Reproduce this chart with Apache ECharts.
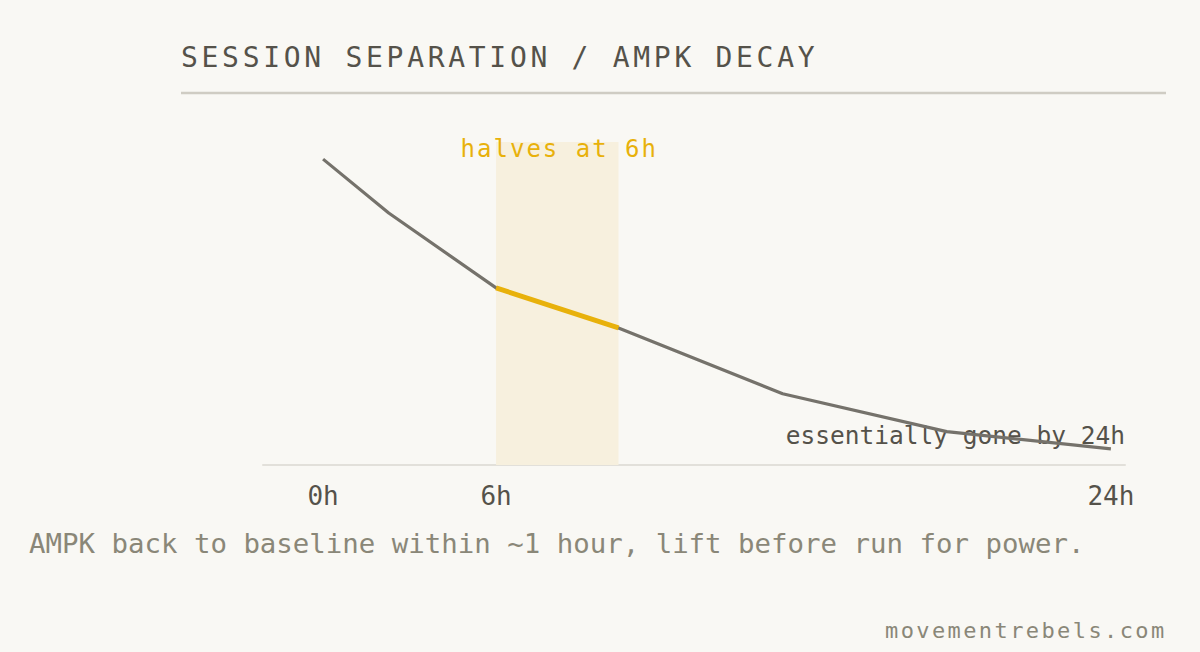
<!DOCTYPE html>
<html>
<head>
<meta charset="utf-8">
<title>Session separation / AMPK decay</title>
<script src="https://cdn.jsdelivr.net/npm/echarts@6/dist/echarts.min.js"></script>
<style>
  html, body { margin: 0; padding: 0; background: #f9f8f4; }
  #chart { width: 1200px; height: 652px; }
</style>
</head>
<body>
<div id="chart"></div>
<script>
// hours after session (x) and relative AMPK activity (y)
const hours = [0, 2, 5.27, 9, 14, 19, 24]
const ampk = [100, 82.4, 57.9, 44.8, 23.3, 10.9, 5.3]

// the "halves" window, drawn in yellow
const halfStart = 2
const halfEnd = 3

const tickValues = [0, 5.27, 24]
const tickLabels = ['0h', '6h', '24h']

const titleText = 'SESSION SEPARATION / AMPK DECAY'
const bandText = 'halves at 6h'
const noteText = 'essentially gone by 24h'
const subText = 'AMPK back to baseline within ~1 hour, lift before run for power.'
const footText = 'movementrebels.com'

// echarts has no letter spacing, so it is set on the svg text afterwards
const spacing = {}
spacing[titleText] = 3.7
spacing[bandText] = 2
spacing[footText] = 2.4

const mono = '"DejaVu Sans Mono", monospace'

const myChart = echarts.init(document.getElementById('chart'), null, { renderer: 'svg' })

const mainLine = hours.map((h, i) => [h, ampk[i]])
const halfLine = mainLine.slice(halfStart, halfEnd + 1)

const applySpacing = () => {
    document.querySelectorAll('#chart svg text').forEach(t => {
        const s = spacing[t.textContent]
        if (s) t.setAttribute('letter-spacing', s)
    })
}
myChart.on('finished', applySpacing)

myChart.setOption({
    backgroundColor: '#f9f8f4',
    animation: false,
    grid: { left: 263, right: 75, top: 142, bottom: 187 },
    xAxis: {
        type: 'value',
        min: -1.83,
        max: 24.43,
        axisLine: { lineStyle: { color: '#e2e0da', width: 2 } },
        axisTick: { show: false },
        splitLine: { show: false },
        axisLabel: {
            customValues: tickValues,
            formatter: v => tickLabels[tickValues.indexOf(v)] || '',
            color: '#55524a',
            fontFamily: mono,
            fontSize: 26,
            margin: 18
        }
    },
    yAxis: {
        type: 'value',
        min: 0,
        max: 105.6,
        show: false
    },
    series: [
        {
            type: 'line',
            data: mainLine,
            symbol: 'none',
            lineStyle: { color: '#75726b', width: 3.2 },
            markArea: {
                silent: true,
                itemStyle: { color: '#f7f0de' },
                label: {
                    show: true,
                    position: 'insideTop',
                    distance: 0,
                    offset: [2, -5],
                    color: '#e8b10b',
                    fontFamily: mono,
                    fontSize: 24
                },
                data: [[
                    { name: bandText, xAxis: hours[halfStart] },
                    { xAxis: hours[halfEnd] }
                ]]
            }
        },
        {
            type: 'line',
            data: halfLine,
            symbol: 'none',
            z: 3,
            lineStyle: { color: '#e8b10b', width: 5 }
        }
    ],
    graphic: [
        {
            type: 'text',
            left: 181, top: 43,
            style: { text: titleText, fill: '#55524a', font: '28px ' + mono }
        },
        {
            type: 'line',
            shape: { x1: 181, y1: 93, x2: 1166, y2: 93 },
            style: { stroke: '#cfccc3', lineWidth: 2.5 }
        },
        {
            type: 'text',
            right: 75, top: 423,
            style: { text: noteText, fill: '#55524a', font: '24.5px ' + mono }
        },
        {
            type: 'text',
            left: 29, top: 530,
            style: { text: subText, fill: '#8a8778', font: '27.4px ' + mono }
        },
        {
            type: 'text',
            left: 885, top: 619,
            style: { text: footText, fill: '#8a8778', font: '22px ' + mono }
        }
    ]
})
applySpacing()
</script>
</body>
</html>
